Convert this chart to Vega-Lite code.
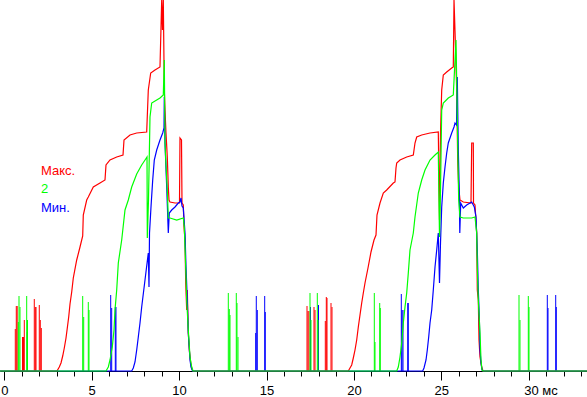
{
 "$schema": "https://vega.github.io/schema/vega-lite/v6.json",
 "width": 587, "height": 371,
 "autosize": {"type": "none"},
 "padding": {"left": 0, "top": 0, "right": 0, "bottom": 26},
 "background": "white",
 "config": {"view": {"stroke": null}, "font": "Liberation Sans"},
 "datasets": {
  "lines": [
{"s":"Макс.","t":-0.246,"v":0},{"s":"Макс.","t":3.015,"v":0},{"s":"Макс.","t":3.146,"v":4},{"s":"Макс.","t":3.244,"v":8},{"s":"Макс.","t":3.341,"v":15},{"s":"Макс.","t":3.432,"v":23},{"s":"Макс.","t":3.53,"v":33},{"s":"Макс.","t":3.604,"v":43},{"s":"Макс.","t":3.684,"v":54},{"s":"Макс.","t":3.759,"v":67},{"s":"Макс.","t":3.856,"v":79},{"s":"Макс.","t":3.947,"v":93},{"s":"Макс.","t":4.142,"v":111},{"s":"Макс.","t":4.331,"v":124},{"s":"Макс.","t":4.485,"v":135},{"s":"Макс.","t":4.519,"v":156},{"s":"Макс.","t":4.714,"v":171},{"s":"Макс.","t":4.805,"v":174},{"s":"Макс.","t":5.092,"v":184},{"s":"Макс.","t":5.475,"v":188},{"s":"Макс.","t":5.761,"v":191},{"s":"Макс.","t":5.818,"v":206},{"s":"Макс.","t":6.047,"v":211},{"s":"Макс.","t":6.43,"v":214},{"s":"Макс.","t":6.791,"v":216},{"s":"Макс.","t":6.848,"v":231},{"s":"Макс.","t":7.191,"v":236},{"s":"Макс.","t":7.574,"v":238},{"s":"Макс.","t":8.146,"v":239},{"s":"Макс.","t":8.238,"v":281},{"s":"Макс.","t":8.375,"v":298},{"s":"Макс.","t":8.621,"v":301},{"s":"Макс.","t":8.907,"v":304},{"s":"Макс.","t":9.005,"v":371},{"s":"Макс.","t":9.05,"v":341},{"s":"Макс.","t":9.096,"v":371},{"s":"Макс.","t":9.153,"v":281},{"s":"Макс.","t":9.193,"v":261},{"s":"Макс.","t":9.25,"v":238},{"s":"Макс.","t":9.325,"v":214},{"s":"Макс.","t":9.382,"v":184},{"s":"Макс.","t":9.422,"v":171},{"s":"Макс.","t":9.479,"v":169},{"s":"Макс.","t":9.765,"v":168},{"s":"Макс.","t":10.023,"v":168},{"s":"Макс.","t":10.051,"v":233},{"s":"Макс.","t":10.137,"v":231},{"s":"Макс.","t":10.166,"v":168},{"s":"Макс.","t":10.24,"v":166},{"s":"Макс.","t":10.28,"v":144},{"s":"Макс.","t":10.338,"v":131},{"s":"Макс.","t":10.378,"v":88},{"s":"Макс.","t":10.435,"v":61},{"s":"Макс.","t":10.469,"v":81},{"s":"Макс.","t":10.526,"v":38},{"s":"Макс.","t":10.584,"v":21},{"s":"Макс.","t":10.664,"v":8},{"s":"Макс.","t":10.721,"v":3},{"s":"Макс.","t":10.795,"v":0},
{"s":"Макс.","t":19.68,"v":0},{"s":"Макс.","t":19.777,"v":3},{"s":"Макс.","t":19.874,"v":6},{"s":"Макс.","t":19.966,"v":13},{"s":"Макс.","t":20.063,"v":21},{"s":"Макс.","t":20.16,"v":31},{"s":"Макс.","t":20.252,"v":44},{"s":"Макс.","t":20.349,"v":56},{"s":"Макс.","t":20.446,"v":68},{"s":"Макс.","t":20.538,"v":78},{"s":"Макс.","t":20.635,"v":88},{"s":"Макс.","t":20.806,"v":103},{"s":"Макс.","t":20.978,"v":119},{"s":"Макс.","t":21.15,"v":131},{"s":"Макс.","t":21.264,"v":136},{"s":"Макс.","t":21.321,"v":156},{"s":"Макс.","t":21.493,"v":168},{"s":"Макс.","t":21.682,"v":178},{"s":"Макс.","t":21.876,"v":181},{"s":"Макс.","t":22.254,"v":188},{"s":"Макс.","t":22.351,"v":189},{"s":"Макс.","t":22.408,"v":203},{"s":"Макс.","t":22.449,"v":208},{"s":"Макс.","t":22.637,"v":211},{"s":"Макс.","t":23.021,"v":214},{"s":"Макс.","t":23.398,"v":216},{"s":"Макс.","t":23.495,"v":228},{"s":"Макс.","t":23.593,"v":234},{"s":"Макс.","t":23.879,"v":236},{"s":"Макс.","t":24.354,"v":238},{"s":"Макс.","t":24.828,"v":239},{"s":"Макс.","t":24.897,"v":151},{"s":"Макс.","t":24.954,"v":238},{"s":"Макс.","t":25.023,"v":281},{"s":"Макс.","t":25.114,"v":296},{"s":"Макс.","t":25.309,"v":299},{"s":"Макс.","t":25.595,"v":303},{"s":"Макс.","t":25.686,"v":304},{"s":"Макс.","t":25.727,"v":371},{"s":"Макс.","t":25.784,"v":340},{"s":"Макс.","t":25.881,"v":281},{"s":"Макс.","t":25.938,"v":211},{"s":"Макс.","t":25.995,"v":184},{"s":"Макс.","t":26.069,"v":171},{"s":"Макс.","t":26.259,"v":169},{"s":"Макс.","t":26.699,"v":168},{"s":"Макс.","t":26.739,"v":228},{"s":"Макс.","t":26.831,"v":228},{"s":"Макс.","t":26.842,"v":168},{"s":"Макс.","t":26.928,"v":166},{"s":"Макс.","t":27.025,"v":138},{"s":"Макс.","t":27.059,"v":81},{"s":"Макс.","t":27.117,"v":71},{"s":"Макс.","t":27.157,"v":31},{"s":"Макс.","t":27.214,"v":14},{"s":"Макс.","t":27.311,"v":4},{"s":"Макс.","t":27.386,"v":0},{"s":"Макс.","t":33.335,"v":0},
{"s":"2","t":-0.246,"v":0},{"s":"2","t":5.818,"v":0},{"s":"2","t":5.95,"v":4},{"s":"2","t":6.047,"v":11},{"s":"2","t":6.178,"v":24},{"s":"2","t":6.276,"v":41},{"s":"2","t":6.333,"v":61},{"s":"2","t":6.43,"v":81},{"s":"2","t":6.522,"v":108},{"s":"2","t":6.716,"v":131},{"s":"2","t":6.905,"v":161},{"s":"2","t":7.094,"v":171},{"s":"2","t":7.288,"v":184},{"s":"2","t":7.574,"v":197},{"s":"2","t":7.86,"v":206},{"s":"2","t":8.089,"v":212},{"s":"2","t":8.164,"v":214},{"s":"2","t":8.181,"v":133},{"s":"2","t":8.249,"v":171},{"s":"2","t":8.335,"v":254},{"s":"2","t":8.432,"v":268},{"s":"2","t":8.719,"v":271},{"s":"2","t":8.907,"v":273},{"s":"2","t":9.096,"v":276},{"s":"2","t":9.153,"v":311},{"s":"2","t":9.193,"v":228},{"s":"2","t":9.25,"v":206},{"s":"2","t":9.325,"v":181},{"s":"2","t":9.382,"v":153},{"s":"2","t":9.479,"v":153},{"s":"2","t":9.863,"v":151},{"s":"2","t":10.24,"v":153},{"s":"2","t":10.297,"v":144},{"s":"2","t":10.378,"v":104},{"s":"2","t":10.435,"v":71},{"s":"2","t":10.526,"v":41},{"s":"2","t":10.624,"v":14},{"s":"2","t":10.721,"v":4},{"s":"2","t":10.795,"v":0},
{"s":"2","t":22.449,"v":0},{"s":"2","t":22.54,"v":4},{"s":"2","t":22.637,"v":14},{"s":"2","t":22.735,"v":28},{"s":"2","t":22.826,"v":48},{"s":"2","t":22.923,"v":64},{"s":"2","t":23.021,"v":78},{"s":"2","t":23.112,"v":98},{"s":"2","t":23.209,"v":121},{"s":"2","t":23.398,"v":138},{"s":"2","t":23.495,"v":154},{"s":"2","t":23.684,"v":178},{"s":"2","t":23.879,"v":191},{"s":"2","t":24.068,"v":201},{"s":"2","t":24.354,"v":211},{"s":"2","t":24.64,"v":216},{"s":"2","t":24.828,"v":219},{"s":"2","t":24.897,"v":134},{"s":"2","t":24.954,"v":181},{"s":"2","t":25.023,"v":261},{"s":"2","t":25.114,"v":268},{"s":"2","t":25.4,"v":273},{"s":"2","t":25.686,"v":276},{"s":"2","t":25.841,"v":331},{"s":"2","t":25.915,"v":254},{"s":"2","t":25.955,"v":208},{"s":"2","t":25.995,"v":171},{"s":"2","t":26.069,"v":154},{"s":"2","t":26.259,"v":153},{"s":"2","t":26.739,"v":153},{"s":"2","t":26.928,"v":154},{"s":"2","t":27.025,"v":138},{"s":"2","t":27.059,"v":104},{"s":"2","t":27.117,"v":71},{"s":"2","t":27.214,"v":38},{"s":"2","t":27.271,"v":11},{"s":"2","t":27.328,"v":1},{"s":"2","t":27.386,"v":0},{"s":"2","t":33.335,"v":0},
{"s":"Мин.","t":-0.246,"v":0},{"s":"Мин.","t":7.288,"v":0},{"s":"Мин.","t":7.38,"v":3},{"s":"Мин.","t":7.477,"v":9},{"s":"Мин.","t":7.574,"v":21},{"s":"Мин.","t":7.666,"v":34},{"s":"Мин.","t":7.763,"v":48},{"s":"Мин.","t":7.86,"v":64},{"s":"Мин.","t":8.049,"v":91},{"s":"Мин.","t":8.238,"v":118},{"s":"Мин.","t":8.278,"v":84},{"s":"Мин.","t":8.307,"v":138},{"s":"Мин.","t":8.392,"v":164},{"s":"Мин.","t":8.49,"v":191},{"s":"Мин.","t":8.581,"v":211},{"s":"Мин.","t":8.719,"v":221},{"s":"Мин.","t":8.907,"v":231},{"s":"Мин.","t":9.062,"v":238},{"s":"Мин.","t":9.136,"v":243},{"s":"Мин.","t":9.153,"v":274},{"s":"Мин.","t":9.193,"v":228},{"s":"Мин.","t":9.291,"v":184},{"s":"Мин.","t":9.382,"v":138},{"s":"Мин.","t":9.439,"v":158},{"s":"Мин.","t":9.577,"v":161},{"s":"Мин.","t":9.765,"v":164},{"s":"Мин.","t":9.954,"v":168},{"s":"Мин.","t":10.051,"v":169},{"s":"Мин.","t":10.109,"v":173},{"s":"Мин.","t":10.166,"v":165},{"s":"Мин.","t":10.24,"v":163},{"s":"Мин.","t":10.338,"v":138},{"s":"Мин.","t":10.395,"v":104},{"s":"Мин.","t":10.469,"v":71},{"s":"Мин.","t":10.526,"v":38},{"s":"Мин.","t":10.624,"v":11},{"s":"Мин.","t":10.681,"v":4},{"s":"Мин.","t":10.767,"v":0},
{"s":"Мин.","t":23.936,"v":0},{"s":"Мин.","t":24.01,"v":3},{"s":"Мин.","t":24.125,"v":11},{"s":"Мин.","t":24.199,"v":21},{"s":"Мин.","t":24.279,"v":34},{"s":"Мин.","t":24.354,"v":48},{"s":"Мин.","t":24.451,"v":61},{"s":"Мин.","t":24.542,"v":81},{"s":"Мин.","t":24.64,"v":104},{"s":"Мин.","t":24.737,"v":121},{"s":"Мин.","t":24.828,"v":138},{"s":"Мин.","t":24.897,"v":88},{"s":"Мин.","t":24.954,"v":128},{"s":"Мин.","t":25.023,"v":164},{"s":"Мин.","t":25.114,"v":188},{"s":"Мин.","t":25.212,"v":204},{"s":"Мин.","t":25.309,"v":218},{"s":"Мин.","t":25.4,"v":228},{"s":"Мин.","t":25.595,"v":238},{"s":"Мин.","t":25.727,"v":244},{"s":"Мин.","t":25.784,"v":248},{"s":"Мин.","t":25.87,"v":246},{"s":"Мин.","t":25.915,"v":294},{"s":"Мин.","t":25.973,"v":221},{"s":"Мин.","t":26.03,"v":178},{"s":"Мин.","t":26.058,"v":138},{"s":"Мин.","t":26.11,"v":168},{"s":"Мин.","t":26.259,"v":163},{"s":"Мин.","t":26.453,"v":166},{"s":"Мин.","t":26.739,"v":169},{"s":"Мин.","t":26.888,"v":164},{"s":"Мин.","t":26.985,"v":154},{"s":"Мин.","t":27.059,"v":121},{"s":"Мин.","t":27.117,"v":81},{"s":"Мин.","t":27.174,"v":54},{"s":"Мин.","t":27.214,"v":21},{"s":"Мин.","t":27.271,"v":8},{"s":"Мин.","t":27.328,"v":1},{"s":"Мин.","t":27.386,"v":0},{"s":"Мин.","t":33.335,"v":0}
  ],
  "spikes": [
{"s":"Макс.","t":0.629,"v":42},{"s":"Макс.","t":0.686,"v":65},{"s":"Макс.","t":0.738,"v":65},{"s":"Макс.","t":1.041,"v":34},{"s":"Макс.","t":1.098,"v":34},{"s":"Макс.","t":1.144,"v":51},{"s":"Макс.","t":1.716,"v":72},{"s":"Макс.","t":1.773,"v":64},{"s":"Макс.","t":1.814,"v":64},{"s":"Макс.","t":2.002,"v":66},{"s":"Макс.","t":2.059,"v":51},{"s":"Макс.","t":2.117,"v":43},
{"s":"Макс.","t":17.317,"v":65},{"s":"Макс.","t":17.374,"v":60},{"s":"Макс.","t":17.431,"v":60},{"s":"Макс.","t":17.717,"v":64},{"s":"Макс.","t":17.775,"v":61},{"s":"Макс.","t":18.364,"v":50},{"s":"Макс.","t":18.421,"v":74},{"s":"Макс.","t":18.461,"v":73},{"s":"Макс.","t":18.69,"v":68},{"s":"Макс.","t":18.747,"v":64},
{"s":"Мин.","t":1.316,"v":39},{"s":"Мин.","t":6.087,"v":76},{"s":"Мин.","t":6.144,"v":63},{"s":"Мин.","t":6.35,"v":64},{"s":"Мин.","t":6.39,"v":64},{"s":"Мин.","t":14.382,"v":38},{"s":"Мин.","t":14.416,"v":75},{"s":"Мин.","t":14.474,"v":61},{"s":"Мин.","t":14.897,"v":75},{"s":"Мин.","t":14.931,"v":59},{"s":"Мин.","t":17.517,"v":64},{"s":"Мин.","t":17.975,"v":66},{"s":"Мин.","t":22.712,"v":77},{"s":"Мин.","t":22.752,"v":61},{"s":"Мин.","t":22.809,"v":61},{"s":"Мин.","t":23.078,"v":68},{"s":"Мин.","t":23.112,"v":68},{"s":"Мин.","t":31.064,"v":76},{"s":"Мин.","t":31.104,"v":63},{"s":"Мин.","t":31.545,"v":76},{"s":"Мин.","t":31.579,"v":64},
{"s":"2","t":0.801,"v":49},{"s":"2","t":0.841,"v":75},{"s":"2","t":0.898,"v":64},{"s":"2","t":1.281,"v":75},{"s":"2","t":1.327,"v":51},{"s":"2","t":4.485,"v":75},{"s":"2","t":4.542,"v":54},{"s":"2","t":4.805,"v":69},{"s":"2","t":4.846,"v":61},{"s":"2","t":12.815,"v":78},{"s":"2","t":12.872,"v":62},{"s":"2","t":12.912,"v":56},{"s":"2","t":13.272,"v":78},{"s":"2","t":13.312,"v":68},{"s":"2","t":13.37,"v":34},{"s":"2","t":17.489,"v":78},{"s":"2","t":17.546,"v":51},{"s":"2","t":17.906,"v":78},{"s":"2","t":17.946,"v":51},{"s":"2","t":21.167,"v":78},{"s":"2","t":21.207,"v":29},{"s":"2","t":21.476,"v":68},{"s":"2","t":21.51,"v":63},{"s":"2","t":29.445,"v":76},{"s":"2","t":29.502,"v":51},{"s":"2","t":29.977,"v":75},{"s":"2","t":30.017,"v":64}
  ]
 },
 "resolve": {"axis": {"x": "independent"}, "scale": {"x": "shared", "y": "shared", "color": "shared"}},
 "layer": [
  {"data": {"name": "spikes"}, "mark": {"type": "rule", "strokeWidth": 1},
   "encoding": {
    "x": {"field": "t", "type": "quantitative",
     "scale": {"domain": [-0.246, 33.335], "nice": false, "zero": false},
     "axis": {"orient": "bottom", "title": null, "grid": false, "values": [0, 5, 10, 15, 20, 25, 30],
      "tickSize": 9, "tickColor": "black", "tickWidth": 1, "domain": false,
      "labelExpr": "datum.value === 30 ? '30 мс' : datum.label",
      "labelAlign": {"condition": {"test": "datum.value === 30", "value": "left"}, "value": "center"},
      "labelOffset": {"condition": {"test": "datum.value === 30", "value": -5}, "value": 0},
      "labelFont": "Liberation Sans", "labelFontSize": 13, "labelColor": "black",
      "labelPadding": 4, "labelOverlap": false, "labelFlush": false}},
    "y": {"field": "v", "type": "quantitative", "scale": {"domain": [0, 371], "nice": false, "zero": true}, "axis": null},
    "y2": {"datum": 0},
    "color": {"field": "s", "type": "nominal", "scale": {"domain": ["Макс.", "2", "Мин."], "range": ["#ff0000", "#00ff00", "#0000ff"]}, "legend": null}}},
  {"data": {"name": "lines"}, "transform": [{"filter": "datum.s === 'Макс.'"}],
   "mark": {"type": "line", "strokeWidth": 1.2, "color": "#ff0000"},
   "encoding": {
    "x": {"field": "t", "type": "quantitative",
     "axis": {"orient": "bottom", "title": null, "grid": false,
      "values": [0,1,2,3,4,5,6,7,8,9,10,11,12,13,14,15,16,17,18,19,20,21,22,23,24,25,26,27,28,29,30,31,32,33],
      "tickSize": 5, "tickColor": "black", "tickWidth": 1, "domainColor": "black", "domainWidth": 1, "labels": false}},
    "y": {"field": "v", "type": "quantitative", "axis": null}}},
  {"data": {"name": "lines"}, "transform": [{"filter": "datum.s === 'Мин.'"}],
   "mark": {"type": "line", "strokeWidth": 1.2, "color": "#0000ff"},
   "encoding": {
    "x": {"field": "t", "type": "quantitative", "axis": null},
    "y": {"field": "v", "type": "quantitative", "axis": null}}},
  {"data": {"name": "lines"}, "transform": [{"filter": "datum.s === '2'"}],
   "mark": {"type": "line", "strokeWidth": 1.2, "color": "#00ff00"},
   "encoding": {
    "x": {"field": "t", "type": "quantitative", "axis": null},
    "y": {"field": "v", "type": "quantitative", "axis": null}}},
  {"data": {"values": [{"label": "Макс."}]},
   "mark": {"type": "text", "align": "left", "baseline": "alphabetic", "fontSize": 13, "font": "Liberation Sans", "color": "#ff0000"},
   "encoding": {"x": {"datum": 2.1, "type": "quantitative", "axis": null}, "y": {"datum": 196, "type": "quantitative", "axis": null}, "text": {"field": "label", "type": "nominal"}}},
  {"data": {"values": [{"label": "2"}]},
   "mark": {"type": "text", "align": "left", "baseline": "alphabetic", "fontSize": 13, "font": "Liberation Sans", "color": "#00ff00"},
   "encoding": {"x": {"datum": 2.1, "type": "quantitative", "axis": null}, "y": {"datum": 178, "type": "quantitative", "axis": null}, "text": {"field": "label", "type": "nominal"}}},
  {"data": {"values": [{"label": "Мин."}]},
   "mark": {"type": "text", "align": "left", "baseline": "alphabetic", "fontSize": 13, "font": "Liberation Sans", "color": "#0000ff"},
   "encoding": {"x": {"datum": 2.1, "type": "quantitative", "axis": null}, "y": {"datum": 159.5, "type": "quantitative", "axis": null}, "text": {"field": "label", "type": "nominal"}}}
 ]
}
